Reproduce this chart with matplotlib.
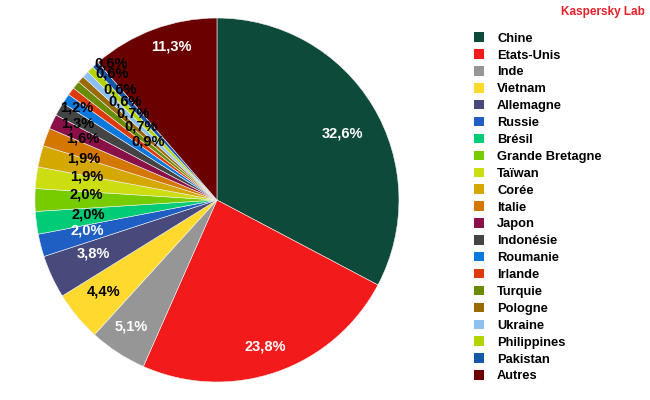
import numpy as np
import matplotlib
matplotlib.use("Agg")
import matplotlib.pyplot as plt
from matplotlib.patches import Patch

plt.rcParams['font.family'] = ['Liberation Sans', 'DejaVu Sans']

# pays et parts (%)
pays = ["Chine", "Etats-Unis", "Inde", "Vietnam", "Allemagne", "Russie", "Brésil",
        "Grande Bretagne", "Taïwan", "Corée", "Italie", "Japon", "Indonésie",
        "Roumanie", "Irlande", "Turquie", "Pologne", "Ukraine", "Philippines",
        "Pakistan", "Autres"]
parts = [32.6, 23.8, 5.1, 4.4, 3.8, 2.0, 2.0, 2.0, 1.9, 1.9, 1.6, 1.3, 1.2,
         0.9, 0.7, 0.7, 0.6, 0.6, 0.6, 0.6, 11.3]

couleurs = ["#0e4a3a", "#f21a1a", "#969696", "#ffd92e", "#474a7a", "#1f5fc4",
            "#00cc77", "#77cc00", "#ccdd11", "#d4a800", "#d47700", "#8a1048",
            "#444444", "#0a78dc", "#dd3a0a", "#6a8a00", "#9a6a00", "#8cc0f0",
            "#b4d400", "#1558aa", "#6a0000"]
blanc = ["Chine", "Etats-Unis", "Inde", "Allemagne", "Russie", "Autres"]

# placement des etiquettes (rayon relatif, decalage d'angle en degres)
lab_r = [0.78, 0.85, 0.84, 0.80, 0.74, 0.73, 0.71, 0.72, 0.73, 0.77, 0.81,
         0.87, 0.92, 0.50, 0.58, 0.66, 0.74, 0.81, 0.90, 0.95, 0.88]
lab_d = [-3, -1, -1, -1, -1.5, -1.4, -1, -2.6, -3.3, -3.5, -4.5, -3.3, -3.4,
         -6.6, -7.6, -6.7, -5.7, -5, -4.4, -4, -4]

fig = plt.figure(figsize=(6.5, 4), dpi=100)
ax = fig.add_axes([0.0538, 0.045, 0.56, 0.91])
wedges, _ = ax.pie(parts, colors=couleurs, startangle=90, counterclock=False,
                   wedgeprops=dict(edgecolor="#f0f0f0", linewidth=0.4))
ax.set_xlim(-1, 1)
ax.set_ylim(-1, 1)
ax.set_aspect("equal")

for i, w in enumerate(wedges):
    ang = np.deg2rad((w.theta1 + w.theta2) / 2 + lab_d[i])
    x = lab_r[i] * np.cos(ang)
    y = lab_r[i] * np.sin(ang)
    c = "white" if pays[i] in blanc else "black"
    ax.text(x, y, f"{parts[i]:.1f}%".replace(".", ","), ha="center", va="center",
            fontsize=10.5, fontweight="bold", color=c)

handles = [Patch(facecolor=couleurs[i], edgecolor="none", label=pays[i]) for i in range(len(pays))]
fig.legend(handles=handles, loc="upper left", bbox_to_anchor=(0.72, 0.935),
           frameon=False, prop=dict(size=9.3, weight="bold"), handlelength=0.75,
           handleheight=0.75, handletextpad=1.0, labelspacing=0.36, borderpad=0)

fig.text(0.992, 0.985, "Kaspersky Lab", ha="right", va="top", color="#e8202a",
         fontsize=8.5, fontweight="bold")

fig.savefig("out.png", dpi=100)
